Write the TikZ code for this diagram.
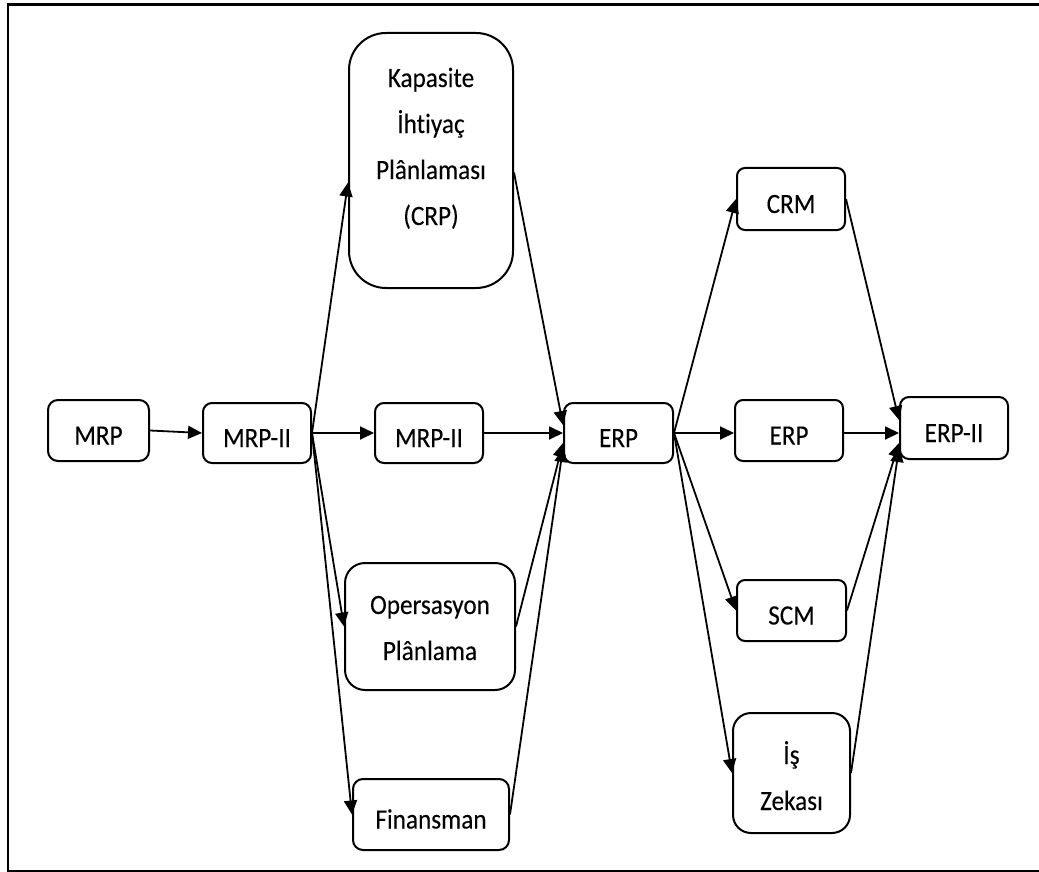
\documentclass[tikz,border=0pt]{standalone}
\usepackage{fontspec}
\setmainfont{Carlito}[FakeStretch=0.9,FakeBold=0.15,Ligatures=NoCommon]
\usetikzlibrary{arrows.meta}
\begin{document}
\begin{tikzpicture}[x=1pt,y=-1pt,
  box/.style={draw,line width=2pt,align=center,inner sep=0pt,
    font=\fontsize{28}{46}\selectfont},
  size/.style 2 args={minimum width=#1,minimum height=#2},
  oneline/.style={text height=30pt,text depth=2pt},
  link/.style={-{Triangle[length=14pt,width=13pt]},line width=1.8pt}]
\useasboundingbox (0,0) rectangle (1039,872);
% outer frame
\draw[line width=2.4pt] (8,4.5) rectangle (1060,871);

% first stage
\node[box,oneline,rounded corners=10pt,size={101pt}{61pt}] (mrp) at (98.5,430.5) {MRP};
\node[box,oneline,rounded corners=9pt,size={108pt}{60pt}] (mrpii) at (257,433) {MRP-II};

% middle column
\node[box,rounded corners=37pt,size={164pt}{255pt},text height=134pt,text depth=5pt] (crp) at (431,160.5)
  {Kapasite\\İhtiyaç\\Plânlaması\\(CRP)};
\node[box,oneline,rounded corners=9pt,size={108pt}{60pt}] (mrpiib) at (429,433) {MRP-II};
\node[box,rounded corners=20pt,size={170pt}{127pt},text height=72pt,text depth=5pt] (oper) at (430,626.5)
  {Opersasyon\\Plânlama};
\node[box,oneline,rounded corners=10pt,size={156pt}{71pt}] (fin) at (431,814.5) {Finansman};

% ERP
\node[box,oneline,rounded corners=9pt,size={109pt}{60pt}] (erp) at (618.5,433) {ERP};

% right column
\node[box,oneline,rounded corners=8pt,size={108pt}{62pt}] (crm) at (791,199) {CRM};
\node[box,oneline,rounded corners=8pt,size={108pt}{61pt}] (erpr) at (789,430.5) {ERP};
\node[box,oneline,rounded corners=8pt,size={109pt}{61pt}] (scm) at (791.5,610.5) {SCM};
\node[box,rounded corners=18pt,size={117pt}{120pt},text height=79pt,text depth=5pt] (is) at (791.5,773)
  {İş\\Zekası};

% ERP-II
\node[box,oneline,rounded corners=9pt,size={108pt}{62pt}] (erpii) at (954,428) {ERP-II};

% connectors
\draw[link] (mrp.east) -- (mrpii.west);
\draw[link] (mrpii.east) -- ([yshift=-22pt]crp.west);
\draw[link] (mrpii.east) -- (mrpiib.west);
\draw[link] (mrpii.east) -- (oper.west);
\draw[link] (mrpii.east) -- (fin.west);

\draw[link] ([yshift=-12pt]crp.east) -- ([yshift=8pt]erp.west);
\draw[link] (mrpiib.east) -- (erp.west);
\draw[link] (oper.east) -- ([yshift=-10pt]erp.west);
\draw[link] (fin.east) -- ([yshift=-15pt]erp.west);

\draw[link] (erp.east) -- (erp.east -| erpr.west);
\draw[link] (erp.east) -- (crm.west);
\draw[link] (erp.east) -- (scm.west);
\draw[link] (erp.east) -- (is.west);

\draw[link] (crm.east) -- ([yshift=8pt]erpii.west);
\draw[link] ([yshift=-2.5pt]erpr.east) -- ([yshift=-2.5pt]erpr.east -| erpii.west);
\draw[link] (scm.east) -- ([yshift=-15pt]erpii.west);
\draw[link] (is.east) -- ([yshift=-20pt]erpii.west);
\end{tikzpicture}
\end{document}
